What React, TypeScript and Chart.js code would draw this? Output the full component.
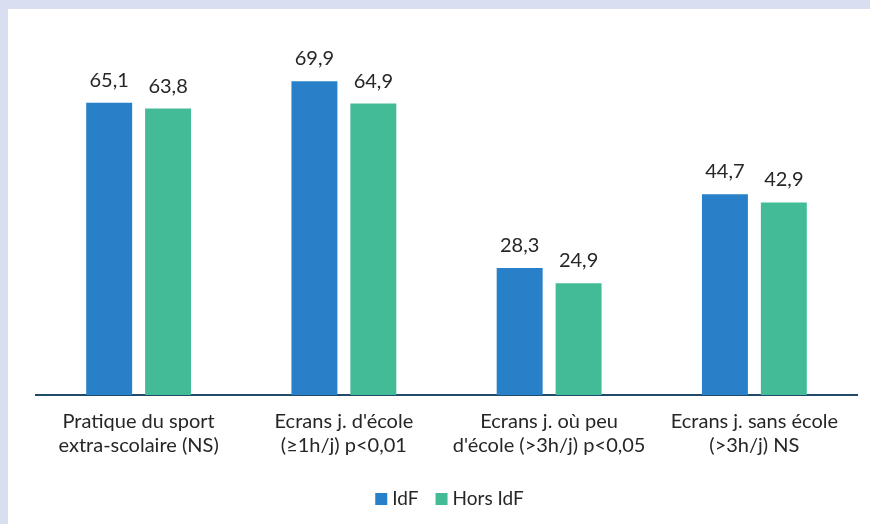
import React, { useEffect, useRef } from "react";
import { Chart, registerables } from "chart.js";

Chart.register(...registerables);

const categories: string[][] = [
  ["Pratique du sport", "extra-scolaire (NS)"],
  ["Ecrans j. d'école", "(≥1h/j) p<0,01"],
  ["Ecrans j. où peu", "d'école (>3h/j) p<0,05"],
  ["Ecrans j. sans école", "(>3h/j) NS"],
];
const idfValues = [65.1, 69.9, 28.3, 44.7];
const horsIdfValues = [63.8, 64.9, 24.9, 42.9];
const seriesNames = ["IdF", "Hors IdF"];

const BLUE = "#2780c8";
const GREEN = "#43bb96";
const FONT = "Lato, 'Open Sans', sans-serif";
const TEXT = "#262626";

const fmt = (v: number) => v.toFixed(1).replace(".", ",");

// Value labels above each bar
const valueLabels = {
  id: "valueLabels",
  afterDatasetsDraw(chart: any) {
    const ctx = chart.ctx;
    ctx.save();
    ctx.font = `20px ${FONT}`;
    ctx.fillStyle = TEXT;
    ctx.textAlign = "center";
    ctx.textBaseline = "alphabetic";
    chart.data.datasets.forEach((ds: any, di: number) => {
      const meta = chart.getDatasetMeta(di);
      meta.data.forEach((bar: any, i: number) => {
        ctx.fillText(fmt(ds.data[i]), bar.x, bar.y - 16);
      });
    });
    ctx.restore();
  },
};

// Legend centred under the category labels
const bottomLegend = {
  id: "bottomLegend",
  afterDraw(chart: any) {
    const ctx = chart.ctx;
    ctx.save();
    ctx.font = `19px ${FONT}`;
    ctx.textBaseline = "middle";
    ctx.textAlign = "left";
    const box = 12;
    const gapBoxText = 5;
    const gapItems = 17;
    const items = chart.data.datasets.map((ds: any) => ({
      label: ds.label,
      color: ds.backgroundColor,
      w: box + gapBoxText + ctx.measureText(ds.label).width,
    }));
    const total =
      items.reduce((s: number, it: any) => s + it.w, 0) +
      gapItems * (items.length - 1);
    const cx = (chart.chartArea.left + chart.chartArea.right) / 2 + 3;
    let x = cx - total / 2;
    const y = 490;
    items.forEach((it: any) => {
      ctx.fillStyle = it.color;
      ctx.fillRect(x, y - box / 2, box, box);
      ctx.fillStyle = TEXT;
      ctx.fillText(it.label, x + box + gapBoxText, y);
      x += it.w + gapItems;
    });
    ctx.restore();
  },
};

export default function App() {
  const canvasRef = useRef<HTMLCanvasElement | null>(null);

  useEffect(() => {
    if (!canvasRef.current) return;
    const chart = new Chart(canvasRef.current, {
      type: "bar",
      data: {
        labels: categories,
        datasets: [
          {
            label: seriesNames[0],
            data: idfValues,
            backgroundColor: BLUE,
            categoryPercentage: 0.574,
            barPercentage: 0.78,
          },
          {
            label: seriesNames[1],
            data: horsIdfValues,
            backgroundColor: GREEN,
            categoryPercentage: 0.574,
            barPercentage: 0.78,
          },
        ],
      },
      options: {
        animation: false,
        responsive: false,
        maintainAspectRatio: false,
        layout: { padding: { left: 28, right: 13, top: 25, bottom: 0 } },
        plugins: {
          legend: { display: false },
          tooltip: { enabled: false },
        },
        scales: {
          x: {
            grid: { display: false, drawTicks: false },
            border: { display: true, color: "#1f4a68", width: 2 },
            ticks: {
              color: TEXT,
              font: { family: FONT, size: 20 },
              padding: 15,
              maxRotation: 0,
              autoSkip: false,
            },
            afterFit: (scale: any) => {
              scale.height = 129;
            },
          },
          y: {
            display: false,
            min: 0,
            max: 80.4,
          },
        },
      } as any,
      plugins: [valueLabels, bottomLegend],
    });
    return () => chart.destroy();
  }, []);

  return (
    <div
      style={{
        position: "fixed",
        left: 0,
        top: 0,
        width: 870,
        height: 524,
        background: "#d9dff0",
        overflow: "hidden",
      }}
    >
      <div
        style={{
          position: "absolute",
          left: 8,
          top: 9,
          width: 862,
          height: 515,
          background: "#ffffff",
        }}
      >
        <canvas ref={canvasRef} width={862} height={515} style={{ display: "block" }} />
      </div>
    </div>
  );
}
